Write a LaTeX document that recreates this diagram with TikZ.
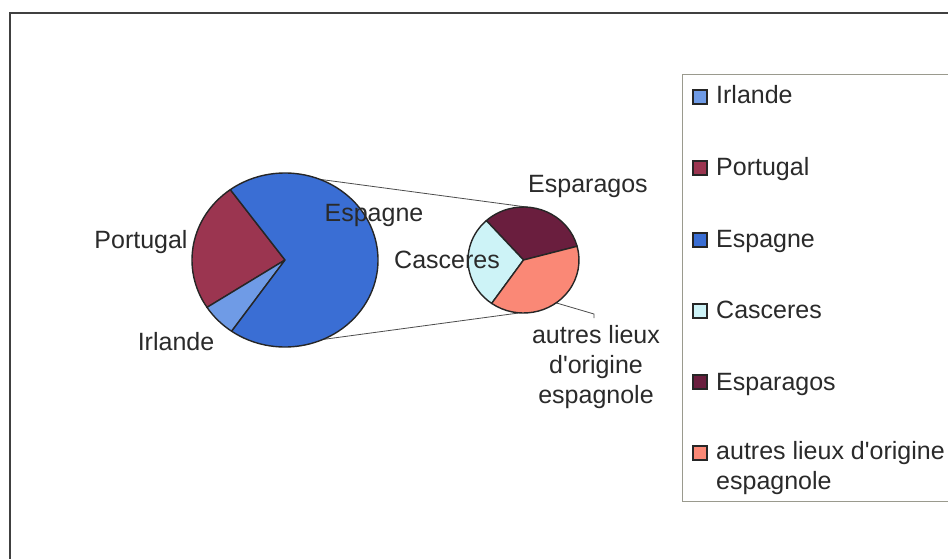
\documentclass[tikz,border=0pt]{standalone}
\usepackage{fontspec}
\setmainfont{Liberation Sans}[Ligatures=TeXOff]
\definecolor{cIrl}{HTML}{6F9BE6}
\definecolor{cPor}{HTML}{9B3550}
\definecolor{cEsp}{HTML}{3A6ED4}
\definecolor{cCas}{HTML}{CDF3F7}
\definecolor{cEsr}{HTML}{6A1E3E}
\definecolor{cAut}{HTML}{FA8876}
\definecolor{txt}{HTML}{2A2A2A}
\definecolor{legline}{HTML}{9A9A8E}
\begin{document}
\begin{tikzpicture}[x=1pt,y=1pt,
  lbl/.style={font=\fontsize{25}{30}\selectfont, text=txt, inner sep=0pt},
  leglbl/.style={font=\fontsize{25}{30}\selectfont, text=txt, inner sep=0pt},
  slice/.style={draw=black!85, line width=1.4pt, line join=round},
  zoomline/.style={draw=gray!60!black, line width=0.8pt},
  legsq/.style={draw=black!85, line width=1.3pt, minimum size=14pt, inner sep=0pt},
  legbox/.style={draw=legline, line width=1pt}]
\useasboundingbox (0,0) rectangle (948,558);
\fill[white] (0,0) rectangle (948,558);
% outer frame
\draw[line width=2pt, draw=black!75] (10,-20) -- (10,545) -- (990,545);
% legend box
\draw[legbox] (682,57) rectangle (990,483);

% centres
\coordinate (bigc) at (285,298);
\coordinate (smc) at (523.5,298);
% connector points
\path (bigc) ++(68:93pt and 87pt) coordinate (bigtop);
\path (bigc) ++(-66:93pt and 87pt) coordinate (bigbot);
\path (smc) ++(86:55.5pt and 53pt) coordinate (smtop);
\path (smc) ++(266:55.5pt and 53pt) coordinate (smbot);
\path (smc) ++(-54:55.5pt and 53pt) coordinate (leadA);
\coordinate (leadB) at (594,244);
\coordinate (leadC) at (594,240);

\draw[zoomline] (bigtop) -- (smtop);
\draw[zoomline] (bigbot) -- (smbot);
\draw[zoomline] (leadA) -- (leadB) -- (leadC);

% big pie
\filldraw[slice, fill=cPor] (bigc) -- ++(126:93pt and 87pt) arc[start angle=126, end angle=213, x radius=93pt, y radius=87pt] -- cycle;
\filldraw[slice, fill=cIrl] (bigc) -- ++(213:93pt and 87pt) arc[start angle=213, end angle=235, x radius=93pt, y radius=87pt] -- cycle;
\filldraw[slice, fill=cEsp] (bigc) -- ++(235:93pt and 87pt) arc[start angle=235, end angle=486, x radius=93pt, y radius=87pt] -- cycle;

% small pie
\filldraw[slice, fill=cEsr] (smc) -- ++(15:55.5pt and 53pt) arc[start angle=15, end angle=132, x radius=55.5pt, y radius=53pt] -- cycle;
\filldraw[slice, fill=cCas] (smc) -- ++(132:55.5pt and 53pt) arc[start angle=132, end angle=235, x radius=55.5pt, y radius=53pt] -- cycle;
\filldraw[slice, fill=cAut] (smc) -- ++(235:55.5pt and 53pt) arc[start angle=235, end angle=375, x radius=55.5pt, y radius=53pt] -- cycle;

% pie labels
\node[lbl, anchor=base] (lPor) at (141,309) {Portugal};
\node[lbl, anchor=base] (lIrl) at (176,208) {Irlande};
\node[lbl, anchor=base] (lEsp) at (374,336) {Espagne};
\node[lbl, anchor=base] (lCas) at (447,290) {Casceres};
\node[lbl, anchor=base] (lEsr) at (588,365) {Esparagos};
\node[lbl, anchor=north, align=center] (lAut) at (596,233) {autres lieux\\d'origine\\espagnole};

% legend
\node[legsq, fill=cIrl] (sIrl) at (700,461) {};
\node[legsq, fill=cPor] (sPor) at (700,390) {};
\node[legsq, fill=cEsp] (sEsp) at (700,318) {};
\node[legsq, fill=cCas] (sCas) at (700,247) {};
\node[legsq, fill=cEsr] (sEsr) at (700,176) {};
\node[legsq, fill=cAut] (sAut) at (700,105) {};
\node[leglbl, anchor=base west] (tIrl) at (716,454) {Irlande};
\node[leglbl, anchor=base west] (tPor) at (716,382) {Portugal};
\node[leglbl, anchor=base west] (tEsp) at (716,311) {Espagne};
\node[leglbl, anchor=base west] (tCas) at (716,240) {Casceres};
\node[leglbl, anchor=base west] (tEsr) at (716,168) {Esparagos};
\node[leglbl, anchor=north west, align=left] (tAut) at (716,117) {autres lieux d'origine\\espagnole};
\end{tikzpicture}
\end{document}
